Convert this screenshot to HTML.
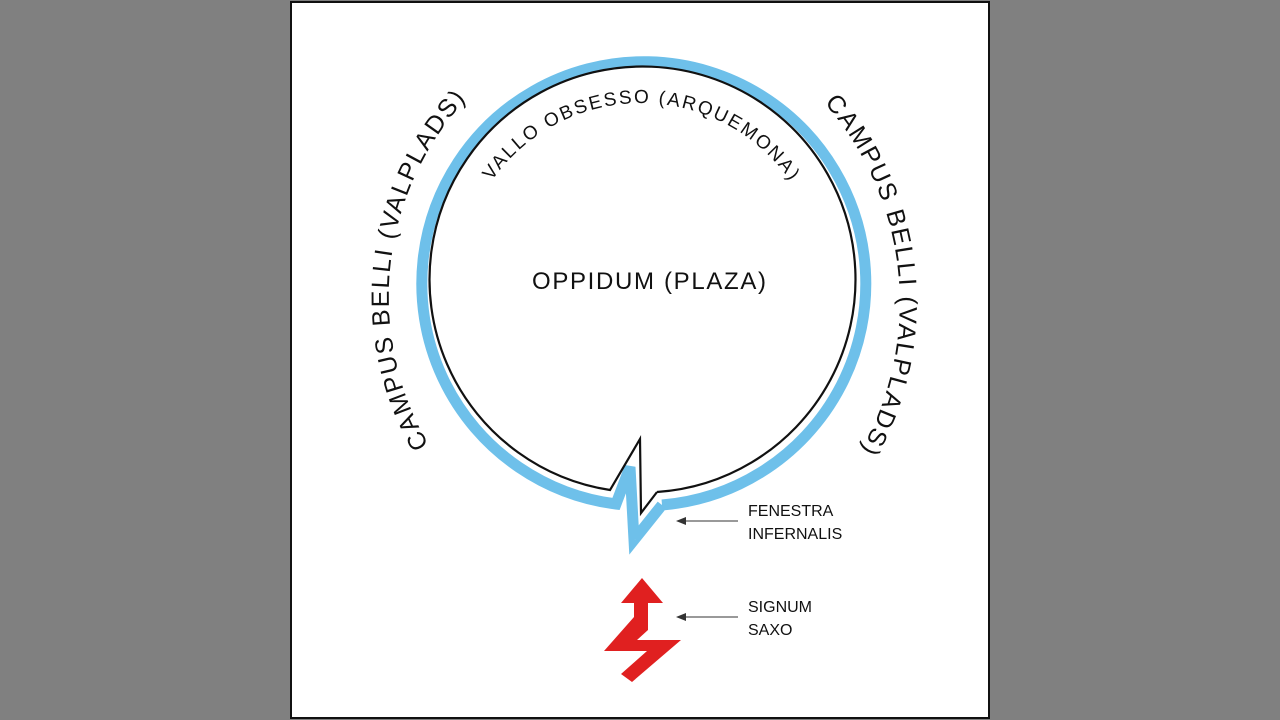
<!DOCTYPE html>
<html><head><style>
html,body{margin:0;padding:0;background:#808080;width:1280px;height:720px;overflow:hidden}
svg{display:block}
text{font-family:"Liberation Sans",sans-serif;fill:#111}
</style></head><body>
<svg width="1280" height="720" viewBox="0 0 1280 720">
<rect x="0" y="0" width="1280" height="720" fill="#808080"/>
<rect x="291" y="2" width="698" height="716" fill="#fff" stroke="#111" stroke-width="2"/>
<defs>
<path id="lp" d="M 432 450 A 292 292 0 0 1 470 95"/>
<path id="rp" d="M 812 90 A 301 301 0 0 1 852 465"/>
<path id="tp" d="M 459 285 A 182 182 0 0 1 823 285"/>
</defs>
<!-- blue ring -->
<path d="M 662 505 A 222 222 0 1 0 616 504 L 630 467 L 634 540 L 662 505" fill="none" stroke="#6ec0ea" stroke-width="11" stroke-linejoin="miter"/>
<!-- black ring -->
<path d="M 657 492 A 213 213 0 1 0 610 490 L 640 439 L 641 513 L 657 492" fill="none" stroke="#111" stroke-width="2.2" stroke-linejoin="miter"/>
<text font-size="25"><textPath href="#lp" startOffset="50%" text-anchor="middle" textLength="372" lengthAdjust="spacing">CAMPUS  BELLI  (VALPLADS)</textPath></text>
<text font-size="25"><textPath href="#rp" startOffset="50%" text-anchor="middle" textLength="372" lengthAdjust="spacing">CAMPUS  BELLI  (VALPLADS)</textPath></text>
<text font-size="19"><textPath href="#tp" startOffset="50%" text-anchor="middle" textLength="350" lengthAdjust="spacing">VALLO  OBSESSO  (ARQUEMONA)</textPath></text>
<text x="649" y="289" font-size="24" text-anchor="middle" textLength="234" lengthAdjust="spacing">OPPIDUM  (PLAZA)</text>
<!-- arrows -->
<line x1="682" y1="521" x2="738" y2="521" stroke="#333" stroke-width="1"/>
<polygon points="676,521 686,517 686,525" fill="#333"/>
<line x1="682" y1="617" x2="738" y2="617" stroke="#333" stroke-width="1"/>
<polygon points="676,617 686,613 686,621" fill="#333"/>
<text x="748" y="516" font-size="16" fill="#333">FENESTRA</text>
<text x="748" y="539" font-size="16" fill="#333">INFERNALIS</text>
<text x="748" y="612" font-size="16" fill="#333">SIGNUM</text>
<text x="748" y="635" font-size="16" fill="#333">SAXO</text>
<!-- red sign -->
<polygon points="642,578 663,603 648,603 648,630 637,640 681,640 632,682 621,674 647,651 604,651 634,617 634,603 621,603" fill="#e02020"/>
</svg>
</body></html>
